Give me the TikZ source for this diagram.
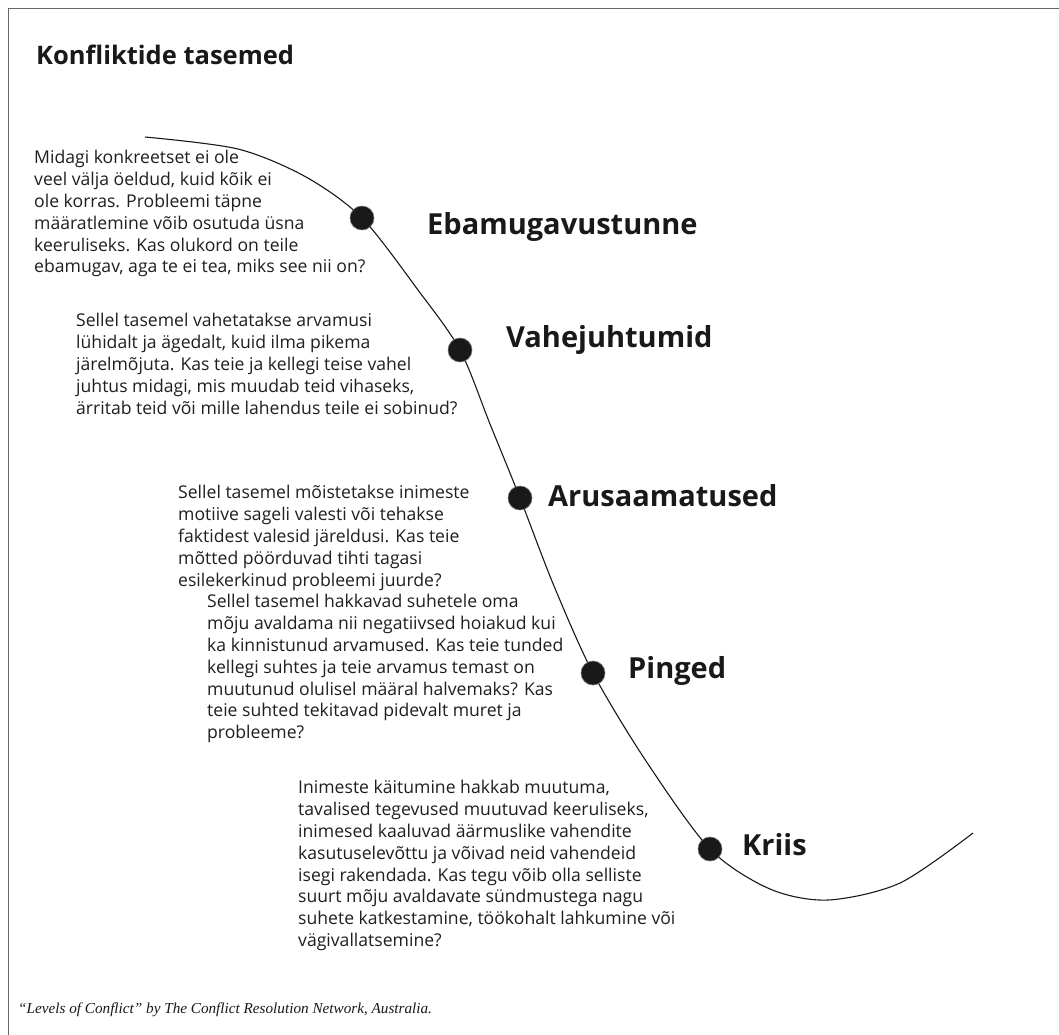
\documentclass[tikz,border=0pt]{standalone}
\usepackage{fontspec}
\setmainfont{Open Sans}
\newfontfamily\capfont{Liberation Serif}
\tikzset{
  body/.style={anchor=north west, inner sep=0pt, align=left, font=\fontsize{17.6}{21.8}\selectfont, text=black!88},
  lvl/.style={anchor=base west, inner sep=0pt, font=\fontsize{29}{32}\bfseries\selectfont, text=black!90},
  dot/.style={circle, fill=black!90, draw=black!55, line width=0.6pt, minimum size=24pt, inner sep=0pt},
  frame/.style={draw=black!60, line width=1.2pt}
}
\begin{document}
\begin{tikzpicture}[x=1pt,y=-1pt]
\useasboundingbox (0,0) rectangle (1059,1034);
\fill[white] (0,0) rectangle (1059,1034);
\draw[frame] (8.5,1040) -- (8.5,8.5) -- (1065,8.5);
\node[anchor=base west, inner sep=0pt, font=\fontsize{25.5}{28}\bfseries\selectfont, text=black!90] (title) at (36,64) {Konfliktide tasemed};
% curve points
\coordinate (p1) at (362,218);
\coordinate (p2) at (460,350);
\coordinate (p3) at (520,498);
\coordinate (p4) at (593,673);
\coordinate (p5) at (710,849);
\draw[line width=1.1pt, black!90] plot[smooth, tension=0.5] coordinates {(145,137) (238,149) (306,177) (p1) (418,290) (p2) (490,424) (p3) (554,586) (p4) (646,761) (p5) (770,889) (828,900) (900,883) (973,833)};
\node[dot] (d1) at (p1) {};
\node[dot] (d2) at (p2) {};
\node[dot] (d3) at (p3) {};
\node[dot] (d4) at (p4) {};
\node[dot] (d5) at (p5) {};
% level labels
\node[lvl] (l1) at (427,234) {Ebamugavustunne};
\node[lvl] (l2) at (506,347) {Vahejuhtumid};
\node[lvl] (l3) at (548,506) {Arusaamatused};
\node[lvl] (l4) at (628,678) {Pinged};
\node[lvl] (l5) at (742,855) {Kriis};
% text blocks
\node[body] (t1) at (34,150.3) {Midagi konkreetset ei ole\\veel välja öeldud, kuid kõik ei\\ole korras. Probleemi täpne\\määratlemine võib osutuda üsna\\keeruliseks. Kas olukord on teile\\ebamugav, aga te ei tea, miks see nii on?};
\node[body] (t2) at (76,313.3) {Sellel tasemel vahetatakse arvamusi\\lühidalt ja ägedalt, kuid ilma pikema\\järelmõjuta. Kas teie ja kellegi teise vahel\\juhtus midagi, mis muudab teid vihaseks,\\ärritab teid või mille lahendus teile ei sobinud?};
\node[body] (t3) at (178,485.3) {Sellel tasemel mõistetakse inimeste\\motiive sageli valesti või tehakse\\faktidest valesid järeldusi. Kas teie\\mõtted pöörduvad tihti tagasi\\esilekerkinud probleemi juurde?};
\node[body] (t4) at (207,594.3) {Sellel tasemel hakkavad suhetele oma\\mõju avaldama nii negatiivsed hoiakud kui\\ka kinnistunud arvamused. Kas teie tunded\\kellegi suhtes ja teie arvamus temast on\\muutunud olulisel määral halvemaks? Kas\\teie suhted tekitavad pidevalt muret ja\\probleeme?};
\node[body] (t5) at (298,780.3) {Inimeste käitumine hakkab muutuma,\\tavalised tegevused muutuvad keeruliseks,\\inimesed kaaluvad äärmuslike vahendite\\kasutuselevõttu ja võivad neid vahendeid\\isegi rakendada. Kas tegu võib olla selliste\\suurt mõju avaldavate sündmustega nagu\\suhete katkestamine, töökohalt lahkumine või\\vägivallatsemine?};
% footer
\node[anchor=base west, inner sep=0pt, font=\capfont\itshape\fontsize{15.2}{18}\selectfont, text=black!90] (src) at (18,1013) {“Levels of Conflict” by The Conflict Resolution Network, Australia.};
\end{tikzpicture}
\end{document}
